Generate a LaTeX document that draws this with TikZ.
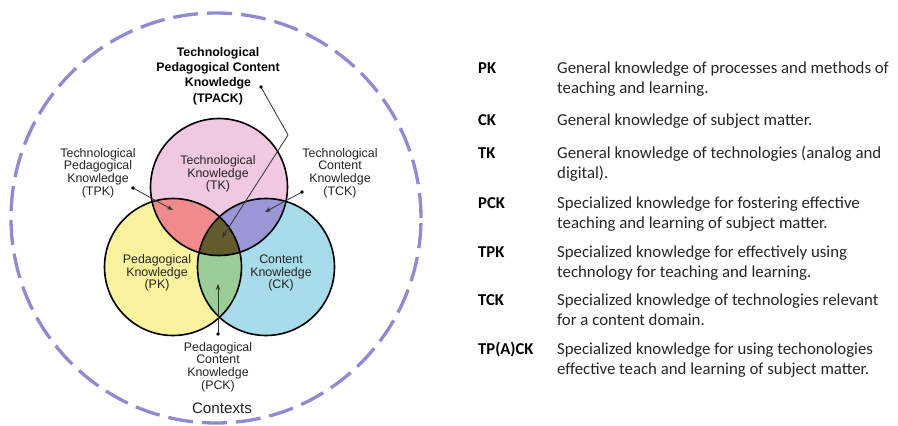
\documentclass[tikz,border=0pt]{standalone}
\usepackage{fontspec}
\setmainfont{Liberation Sans}
\newfontfamily\calibri{Carlito}
\usetikzlibrary{arrows.meta}
\definecolor{pinkTK}{RGB}{240,200,226}
\definecolor{yellowPK}{RGB}{249,243,158}
\definecolor{blueCK}{RGB}{168,220,234}
\definecolor{redTPK}{RGB}{240,138,140}
\definecolor{purpleTCK}{RGB}{155,151,214}
\definecolor{greenPCK}{RGB}{155,205,152}
\definecolor{oliveTPACK}{RGB}{98,92,44}
\definecolor{dashcol}{RGB}{143,139,208}
\definecolor{txt}{RGB}{35,35,35}
\tikzset{
  lbl/.style={align=center, inner sep=0pt, text=txt, font=\fontsize{12.4}{12.7}\selectfont},
  boldlbl/.style={align=center, inner sep=0pt, font=\fontsize{12.4}{15.2}\selectfont\bfseries},
  abbr/.style={anchor=base west, inner sep=0pt, font=\calibri\fontsize{16.6}{20}\selectfont\bfseries},
  desc/.style={anchor=base west, inner sep=0pt, font=\calibri\fontsize{16.8}{20}\selectfont, text=black!85},
  pointer/.style={line width=0.8pt, draw=black!80, -{Stealth[length=6pt,width=4.5pt]}},
  dotmark/.style={fill=black},
  ring/.style={draw=black, line width=1.6pt}
}
\begin{document}
\begin{tikzpicture}[x=1pt,y=-1pt]
\useasboundingbox (0,0) rectangle (898,426);
\fill[white] (0,0) rectangle (898,426);
% circle centres
\coordinate (cTK) at (219,187);
\coordinate (cPK) at (173,267);
\coordinate (cCK) at (266,267);
\def\rr{68.5pt}
% context ring
\coordinate (cCtx) at (216,218);
\draw[dashcol, line width=3.3pt, dash pattern=on 25pt off 9pt] (cCtx) circle[radius=205pt];
% base fills
\fill[pinkTK] (cTK) circle[radius=\rr];
\fill[yellowPK] (cPK) circle[radius=\rr];
\fill[blueCK] (cCK) circle[radius=\rr];
% pairwise overlaps
\begin{scope}\clip (cTK) circle[radius=\rr]; \fill[redTPK] (cPK) circle[radius=\rr];\end{scope}
\begin{scope}\clip (cTK) circle[radius=\rr]; \fill[purpleTCK] (cCK) circle[radius=\rr];\end{scope}
\begin{scope}\clip (cPK) circle[radius=\rr]; \fill[greenPCK] (cCK) circle[radius=\rr];\end{scope}
\begin{scope}\clip (cTK) circle[radius=\rr]; \clip (cPK) circle[radius=\rr]; \fill[oliveTPACK] (cCK) circle[radius=\rr];\end{scope}
% outlines
\draw[ring] (cTK) circle[radius=\rr];
\draw[ring] (cPK) circle[radius=\rr];
\draw[ring] (cCK) circle[radius=\rr];
% circle texts
\node[lbl] (tk) at (218,174) {Technological\\Knowledge\\(TK)};
\node[lbl] (pk) at (157,273) {Pedagogical\\Knowledge\\(PK)};
\node[lbl] (ck) at (281,273) {Content\\Knowledge\\(CK)};
% outer labels
\node[boldlbl] (tpack) at (218,76) {Technological\\Pedagogical Content\\Knowledge\\(TPACK)};
\node[lbl] (tpk) at (98,173) {Technological\\Pedagogical\\Knowledge\\(TPK)};
\node[lbl] (tck) at (340,173) {Technological\\Content\\Knowledge\\(TCK)};
\node[lbl] (pck) at (218,367) {Pedagogical\\Content\\Knowledge\\(PCK)};
\node[inner sep=0pt, text=txt, font=\fontsize{15.2}{16}\selectfont] (ctx) at (222,408) {Contexts};
% pointers
\coordinate (dTPACK) at (261,87);
\coordinate (kTPACK) at (288,135);
\coordinate (aTPACK) at (222,238);
\coordinate (dTPK) at (133,188);
\coordinate (aTPK) at (173,210);
\coordinate (dTCK) at (302,192);
\coordinate (aTCK) at (265,212);
\coordinate (dPCK) at (218,334);
\coordinate (aPCK) at (218,284);
\draw[pointer] (dTPACK) -- (kTPACK) -- (aTPACK);
\draw[pointer] (dTPK) -- (aTPK);
\draw[pointer] (dTCK) -- (aTCK);
\draw[pointer] (dPCK) -- (aPCK);
\foreach \d in {dTPACK,dTPK,dTCK,dPCK} \fill[dotmark] (\d) circle[radius=1.9pt];
% legend
\node[abbr] (aPK) at (478,73) {PK};
\node[desc] (dPK1) at (557,73) {General knowledge of processes and methods of};
\node[desc] (dPK2) at (557,93) {teaching and learning.};
\node[abbr] (aCK) at (478,125) {CK};
\node[desc] (dCK1) at (557,125) {General knowledge of subject matter.};
\node[abbr] (aTK) at (478,158) {TK};
\node[desc] (dTK1) at (557,158) {General knowledge of technologies (analog and};
\node[desc] (dTK2) at (557,178) {digital).};
\node[abbr] (aPCK) at (478,208) {PCK};
\node[desc] (dPCK1) at (557,208) {Specialized knowledge for fostering effective};
\node[desc] (dPCK2) at (557,228) {teaching and learning of subject matter.};
\node[abbr] (aTPK) at (478,257) {TPK};
\node[desc] (dTPK1) at (557,257) {Specialized knowledge for effectively using};
\node[desc] (dTPK2) at (557,277) {technology for teaching and learning.};
\node[abbr] (aTCK) at (478,305) {TCK};
\node[desc] (dTCK1) at (557,305) {Specialized knowledge of technologies relevant};
\node[desc] (dTCK2) at (557,325) {for a content domain.};
\node[abbr] (aTPACK) at (478,354) {TP(A)CK};
\node[desc] (dTPACK1) at (557,354) {Specialized knowledge for using techonologies};
\node[desc] (dTPACK2) at (557,374) {effective teach and learning of subject matter.};
\end{tikzpicture}
\end{document}
